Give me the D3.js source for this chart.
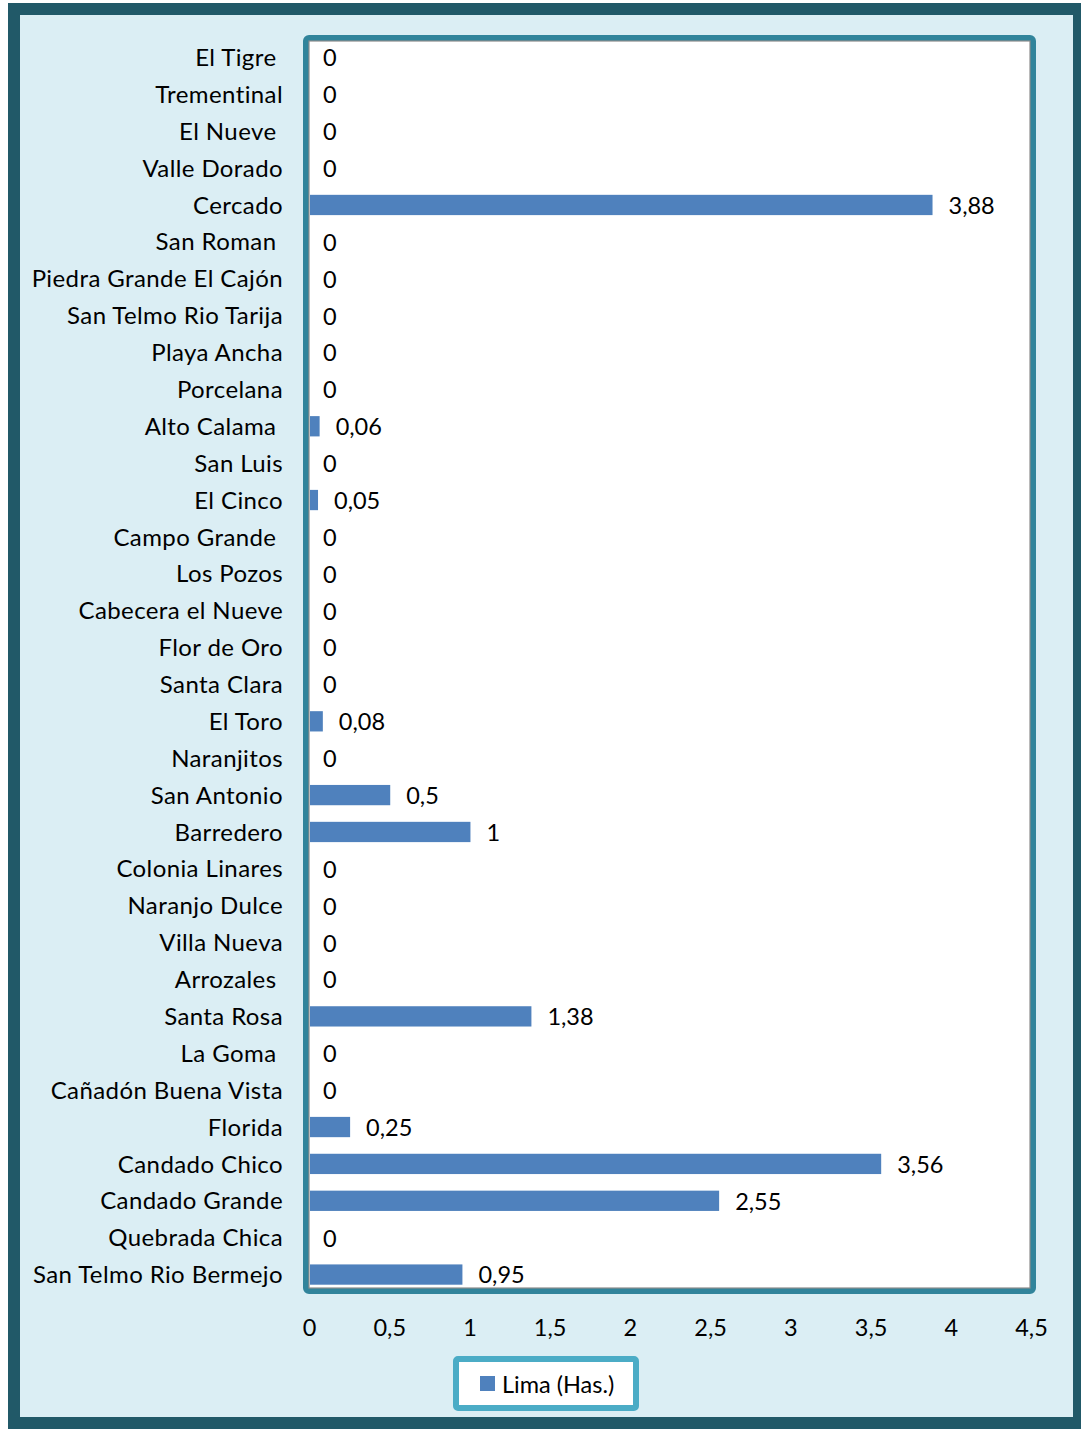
<!DOCTYPE html>
<html>
<head>
<meta charset="utf-8">
<script src="https://cdn.jsdelivr.net/npm/d3@7"></script>
<style>
  body { margin: 0; background: #fff; }
  text { font-family: Lato, 'Open Sans', sans-serif; fill: #000; }
</style>
</head>
<body>
<div id="graf"></div>
<script>
// datos
categorias = ['El Tigre ', 'Trementinal', 'El Nueve ', 'Valle Dorado', 'Cercado', 'San Roman ',
  'Piedra Grande El Cajón', 'San Telmo Rio Tarija', 'Playa Ancha', 'Porcelana', 'Alto Calama ',
  'San Luis', 'El Cinco', 'Campo Grande ', 'Los Pozos', 'Cabecera el Nueve', 'Flor de Oro',
  'Santa Clara', 'El Toro', 'Naranjitos', 'San Antonio', 'Barredero', 'Colonia Linares',
  'Naranjo Dulce', 'Villa Nueva', 'Arrozales ', 'Santa Rosa', 'La Goma ', 'Cañadón Buena Vista',
  'Florida', 'Candado Chico', 'Candado Grande', 'Quebrada Chica', 'San Telmo Rio Bermejo']
lima = [0, 0, 0, 0, 3.88, 0, 0, 0, 0, 0, 0.06, 0, 0.05, 0, 0, 0, 0, 0, 0.08, 0, 0.5, 1, 0, 0, 0, 0,
  1.38, 0, 0, 0.25, 3.56, 2.55, 0, 0.95]
ticks = [0, 0.5, 1, 1.5, 2, 2.5, 3, 3.5, 4, 4.5]
serie = 'Lima (Has.)'

datos = categorias.map((c, i) => ({ nombre: c, valor: lima[i] }))

ancho_total = 1081
alto_total = 1431

// formato con coma decimal
locale = d3.formatLocale({ decimal: ',', thousands: '.', grouping: [3], currency: ['', ''] })
fmt = locale.format('')

svg = d3.select('#graf').append('svg')
  .attr('width', ancho_total)
  .attr('height', alto_total)

// fondo y marco exterior
svg.append('rect')
  .attr('x', 14).attr('y', 9)
  .attr('width', 1065).attr('height', 1414)
  .attr('fill', '#dbeef4')
  .attr('stroke', '#215968')
  .attr('stroke-width', 12)

// escalas
x = d3.scaleLinear().domain([0, 4.5]).range([309, 1031])
y = d3.scaleBand().domain(categorias).range([39, 1293])
  .paddingInner(0.45).paddingOuter(0.225)

// area del grafico
svg.append('rect')
  .attr('x', 306).attr('y', 38)
  .attr('width', 727).attr('height', 1253)
  .attr('rx', 3)
  .attr('fill', '#fff')
  .attr('stroke', '#31849b')
  .attr('stroke-width', 6)
svg.append('rect')
  .attr('x', 309).attr('y', 41)
  .attr('width', 721).attr('height', 1247)
  .attr('fill', 'none')
  .attr('stroke', '#8c8c8c')
  .attr('stroke-width', 1.2)

// barras
svg.selectAll('rect.barra')
  .data(datos)
  .enter().append('rect')
  .attr('class', 'barra')
  .attr('x', x(0) + 1)
  .attr('y', d => y(d.nombre))
  .attr('width', d => Math.max(0, x(d.valor) - x(0)))
  .attr('height', y.bandwidth())
  .attr('fill', '#4f81bd')

// etiquetas de valor
svg.selectAll('text.valor')
  .data(datos)
  .enter().append('text')
  .attr('class', 'valor')
  .attr('x', d => x(d.valor) + (d.valor > 0 ? 17 : 14))
  .attr('y', d => y(d.nombre) + y.bandwidth() / 2)
  .attr('dy', '0.38em')
  .style('font-size', '23.5px')
  .text(d => fmt(d.valor))

// eje y (categorias)
svg.selectAll('text.cat')
  .data(datos)
  .enter().append('text')
  .attr('class', 'cat')
  .attr('x', 283)
  .attr('y', d => y(d.nombre) + y.bandwidth() / 2)
  .attr('dy', '0.36em')
  .attr('text-anchor', 'end')
  .style('white-space', 'pre')
  .style('font-size', '24px')
  .style('letter-spacing', '0.4px')
  .text(d => d.nombre)

// eje x
xAxis = d3.axisBottom(x).tickValues(ticks).tickFormat(fmt).tickSize(0).tickPadding(0)
xg = svg.append('g')
  .attr('transform', 'translate(0, 1319)')
  .call(xAxis)
xg.select('.domain').remove()
xg.selectAll('text')
  .attr('dy', '0.71em')
  .style('font-size', '23.5px')
  .style('font-family', 'Lato, sans-serif')
  .attr('fill', '#000')

// leyenda
ley = svg.append('g')
ley.append('rect')
  .attr('x', 456).attr('y', 1359)
  .attr('width', 180).attr('height', 49)
  .attr('rx', 2)
  .attr('fill', '#fff')
  .attr('stroke', '#4bacc6')
  .attr('stroke-width', 6)
ley.append('rect')
  .attr('x', 480).attr('y', 1376)
  .attr('width', 15).attr('height', 15)
  .attr('fill', '#4f81bd')
ley.append('text')
  .attr('x', 502).attr('y', 1384)
  .attr('dy', '0.38em')
  .style('font-size', '23.5px')
  .text(serie)
</script>
</body>
</html>
